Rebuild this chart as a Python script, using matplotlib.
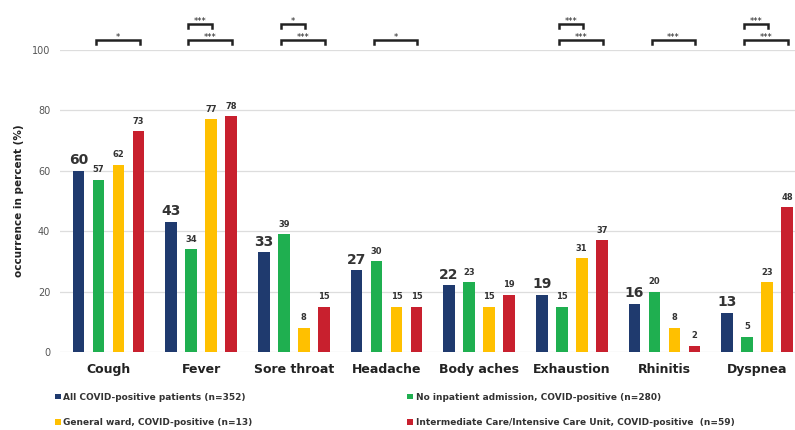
import matplotlib
matplotlib.use("Agg")
import matplotlib.pyplot as plt
import numpy as np
from matplotlib.patches import Patch

symptoms = ["Cough", "Fever", "Sore throat", "Headache", "Body aches",
            "Exhaustion", "Rhinitis", "Dyspnea"]

all_pos = [60, 43, 33, 27, 22, 19, 16, 13]
no_inpatient = [57, 34, 39, 30, 23, 15, 20, 5]
general_ward = [62, 77, 8, 15, 15, 31, 8, 23]
imc_icu = [73, 78, 15, 15, 19, 37, 2, 48]

series_labels = [
    "All COVID-positive patients (n=352)",
    "No inpatient admission, COVID-positive (n=280)",
    "General ward, COVID-positive (n=13)",
    "Intermediate Care/Intensive Care Unit, COVID-positive  (n=59)",
]
colors = ["#1F3A6E", "#1FAF50", "#FFC000", "#C8202E"]

# significance brackets: (symptom index, first bar, second bar, stars, level)
brackets = [
    (0, 1, 3, "*", 0),
    (1, 1, 2, "***", 1),
    (1, 1, 3, "***", 0),
    (2, 1, 2, "*", 1),
    (2, 1, 3, "***", 0),
    (3, 1, 3, "*", 0),
    (5, 1, 2, "***", 1),
    (5, 1, 3, "***", 0),
    (6, 1, 3, "***", 0),
    (7, 1, 2, "***", 1),
    (7, 1, 3, "***", 0),
]

fig = plt.figure(figsize=(7.95, 4.3), dpi=100)
ax = fig.add_axes([0.0755, 0.1815, 0.9245, 0.7025])

x = np.arange(len(symptoms))
step = 0.216
width = 0.125
offsets = (np.arange(4) - 1.5) * step
series = [all_pos, no_inpatient, general_ward, imc_icu]

for i, (vals, col) in enumerate(zip(series, colors)):
    ax.bar(x + offsets[i], vals, width=width, color=col, zorder=3)
    for xi, v in zip(x, vals):
        if i == 0:
            ax.text(xi + offsets[i], v + 1.2, str(v), ha="center", va="bottom",
                    fontsize=10, fontweight="bold", color="#333333")
        else:
            ax.text(xi + offsets[i], v + 1.8, str(v), ha="center", va="bottom",
                    fontsize=6, fontweight="bold", color="#333333")

for cat, a, b, stars, level in brackets:
    x0 = cat + offsets[a] - 0.03
    x1 = cat + offsets[b] + 0.01
    y = 103.4 + level * 5.3
    ax.plot([x0, x0, x1, x1], [y - 1.6, y, y, y - 1.6], color="#222222",
            lw=1.8, clip_on=False, solid_joinstyle="miter")
    ax.text((x0 + x1) / 2, y - 0.8, stars, ha="center", va="bottom",
            fontsize=6, color="#222222", clip_on=False)

ax.set_xlim(-0.524, 7.41)
ax.set_ylim(0, 100)
ax.set_yticks(range(0, 101, 20))
ax.yaxis.grid(True, color="#DDDDDD", lw=0.9, zorder=0)
ax.set_axisbelow(True)
ax.tick_params(axis="y", length=0, labelsize=7, labelcolor="#555555", pad=7)
ax.tick_params(axis="x", length=0, pad=8)
ax.set_xticks(x)
ax.set_xticklabels(symptoms, fontsize=9, fontweight="bold", color="#222222")
ax.set_ylabel("occurrence in percent (%)", fontsize=7.5, fontweight="bold",
              color="#222222", labelpad=6)
for sp in ax.spines.values():
    sp.set_visible(False)

handles = [Patch(facecolor=c) for c in colors]
legend_kw = dict(frameon=False, handlelength=0.6, handleheight=0.6,
                 handletextpad=0.3, labelspacing=1.85, borderaxespad=0,
                 labelcolor="#333333", prop={"weight": "bold", "size": 6.5})
fig.legend([handles[0], handles[2]], [series_labels[0], series_labels[2]],
           loc="upper left", bbox_to_anchor=(0.065, 0.095), **legend_kw)
fig.legend([handles[1], handles[3]], [series_labels[1], series_labels[3]],
           loc="upper left", bbox_to_anchor=(0.508, 0.095), **legend_kw)

fig.savefig("out.png", dpi=100)
